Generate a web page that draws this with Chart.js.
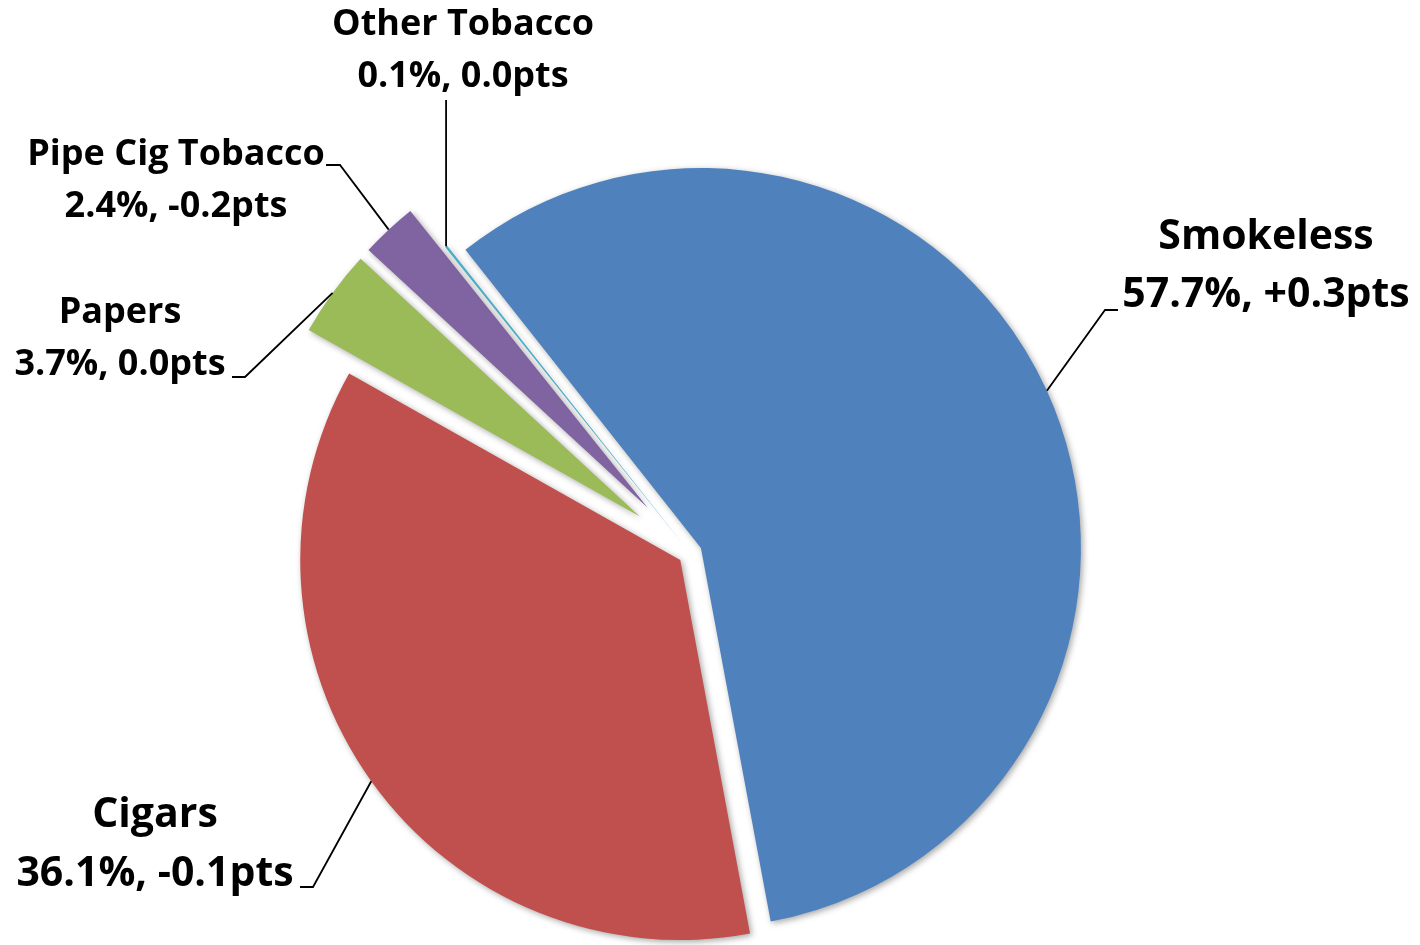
<!DOCTYPE html>
<html>
<head>
<meta charset="utf-8">
<script src="https://cdn.jsdelivr.net/npm/chart.js@4.4.0/dist/chart.umd.min.js"></script>
<style>
  html, body { margin: 0; padding: 0; background: #fff; }
  #wrap { width: 1420px; height: 945px; position: relative; }
</style>
</head>
<body>
<div id="wrap"><canvas id="myChart"></canvas></div>
<script>
const categories = ["Smokeless", "Cigars", "Papers", "Pipe Cig Tobacco", "Other Tobacco"];
const shares = [57.7, 36.1, 3.7, 2.4, 0.1];
const changes = [0.3, -0.1, 0.0, -0.2, 0.0];
const colors = ["#4F81BD", "#C0504D", "#9BBB59", "#8064A2", "#4BACC6"];
// how far each slice is pulled out of the pie, px
const explode = [12, 12, 62, 62, 12];

// where each label sits: [centerX, firstLineY, lineGap, fontSize, elbowX, elbowY, tailX]
const labelSpots = [
  [1266, 237, 58, 41, 1105, 310, 1118],
  [155, 815, 59, 41, 313, 887, 300],
  [120, 313, 52, 36, 245, 377, 232],
  [176, 155, 52, 36, 340, 165, 326],
  [463, 25, 52, 36, null, 100, null],
];

function fmtChange(v) {
  return (v > 0 ? "+" : "") + v.toFixed(1) + "pts";
}

// chart.js's own "offset" also grows small slices, so push the arcs out here instead
const explodePlugin = {
  id: "explode",
  afterDatasetsUpdate(chart) {
    const arcs = chart.getDatasetMeta(0).data;
    arcs.forEach(function (arc, i) {
      const mid = (arc.startAngle + arc.endAngle) / 2;
      arc.x += Math.cos(mid) * explode[i];
      arc.y += Math.sin(mid) * explode[i];
    });
  },
};

const shadowPlugin = {
  id: "shadow",
  beforeDatasetsDraw(chart) {
    const ctx = chart.ctx;
    ctx.save();
    ctx.shadowColor = "rgba(0,0,0,0.35)";
    ctx.shadowBlur = 6;
    ctx.shadowOffsetX = 2;
    ctx.shadowOffsetY = 2;
  },
  afterDatasetsDraw(chart) {
    chart.ctx.restore();
  },
};

const labelPlugin = {
  id: "sliceLabels",
  afterDraw(chart) {
    const ctx = chart.ctx;
    const arcs = chart.getDatasetMeta(0).data;
    ctx.save();
    arcs.forEach(function (arc, i) {
      const mid = (arc.startAngle + arc.endAngle) / 2;
      const ax = arc.x + Math.cos(mid) * arc.outerRadius;
      const ay = arc.y + Math.sin(mid) * arc.outerRadius;
      const s = labelSpots[i];

      // leader line
      ctx.strokeStyle = "#000";
      ctx.lineWidth = 1.8;
      ctx.beginPath();
      ctx.moveTo(ax, ay);
      if (s[4] === null) {
        ctx.lineTo(ax, s[5]);
      } else {
        ctx.lineTo(s[4], s[5]);
        ctx.lineTo(s[6], s[5]);
      }
      ctx.stroke();

      // text
      ctx.fillStyle = "#000";
      ctx.textAlign = "center";
      ctx.textBaseline = "middle";
      ctx.font = "bold " + s[3] + "px 'Open Sans'";
      ctx.fillText(categories[i], s[0], s[1]);
      ctx.fillText(shares[i].toFixed(1) + "%, " + fmtChange(changes[i]), s[0], s[1] + s[2]);
    });
    ctx.restore();
  },
};

const data = {
  labels: categories,
  datasets: [
    {
      data: shares,
      backgroundColor: colors,
      borderWidth: 0,
    },
  ],
};

const config = {
  type: "pie",
  data: data,
  options: {
    responsive: true,
    maintainAspectRatio: false,
    animation: false,
    rotation: -38.3,
    radius: 380,
    layout: {
      padding: { left: 0, right: 40, top: 161, bottom: 0 },
    },
    plugins: {
      legend: { display: false },
      tooltip: { enabled: false },
    },
  },
  plugins: [explodePlugin, shadowPlugin, labelPlugin],
};

const myChart = new Chart(document.getElementById("myChart"), config);
</script>
</body>
</html>
